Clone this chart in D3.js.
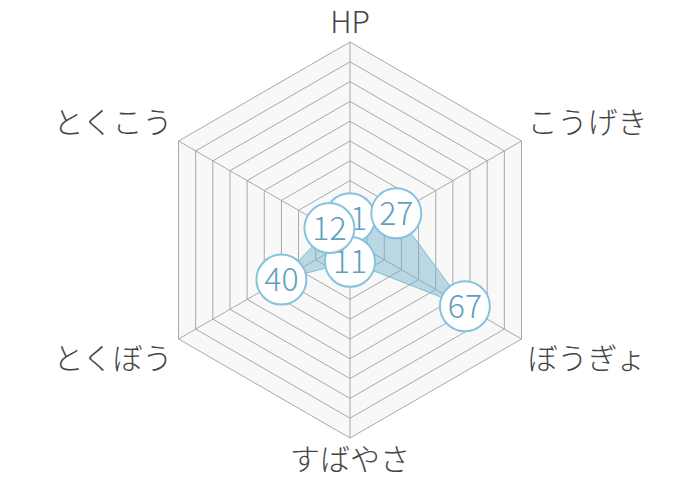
<!DOCTYPE html>
<html>
<head>
<meta charset="utf-8">
<script src="https://cdn.jsdelivr.net/npm/d3@7"></script>
<style>
  body { margin: 0; background: #fff; }
  svg { display: block; }
</style>
</head>
<body>
<script>
// stat names clockwise from the top
const stats = ["HP", "こうげき", "ぼうぎょ", "すばやさ", "とくぼう", "とくこう"];
const values = [11, 27, 67, 11, 40, 12];
const levels = [10, 20, 30, 40, 50, 60, 70, 80, 90, 100];

const width = 700, height = 480;
const cx = 350, cy = 240, R = 198;

const svg = d3.select("body").append("svg")
              .attr("width", width)
              .attr("height", height);

const g = svg.append("g").attr("transform", `translate(${cx},${cy})`);

const r = d3.scaleLinear().domain([0, 100]).range([0, R]);
const angle = d3.scaleLinear().domain([0, stats.length]).range([0, 2 * Math.PI]);

const pt = (i, v) => [Math.sin(angle(i)) * r(v), -Math.cos(angle(i)) * r(v)];

const radial = d3.lineRadial()
                 .angle((d, i) => angle(i))
                 .radius(d => r(d))
                 .curve(d3.curveLinearClosed);

// background hexagon
g.append("path")
 .attr("d", radial(stats.map(() => 100)))
 .attr("fill", "#f8f8f8")
 .attr("stroke", "none");

// rings
g.selectAll(".ring")
 .data(levels)
 .join("path")
 .attr("class", "ring")
 .attr("d", d => radial(stats.map(() => d)))
 .attr("fill", "none")
 .attr("stroke", "#a8a8a8")
 .attr("stroke-width", 1);

// spokes
g.selectAll(".spoke")
 .data(stats)
 .join("line")
 .attr("class", "spoke")
 .attr("x1", 0).attr("y1", 0)
 .attr("x2", (d, i) => pt(i, 100)[0])
 .attr("y2", (d, i) => pt(i, 100)[1])
 .attr("stroke", "#a8a8a8")
 .attr("stroke-width", 1);

// data area
g.append("path")
 .attr("d", radial(values))
 .attr("fill", "rgba(110,175,205,0.45)")
 .attr("stroke", "#7fbcd8")
 .attr("stroke-width", 1);

// value bubbles
const bub = g.selectAll(".bub")
             .data(values)
             .join("g")
             .attr("class", "bub")
             .attr("transform", (d, i) => `translate(${pt(i, d)})`);

bub.append("circle")
   .attr("r", 25)
   .attr("fill", "#fff")
   .attr("stroke", "#86c3de")
   .attr("stroke-width", 2);

bub.append("text")
   .attr("text-anchor", "middle")
   .attr("dy", "0.36em")
   .attr("font-family", "'Noto Sans CJK JP', 'Noto Sans', sans-serif")
   .attr("font-weight", 300)
   .attr("font-size", 32)
   .attr("fill", "#5f9fc0")
   .text(d => d);

// axis labels
const labelPos = [
  {dx: 0, dy: -9, anchor: "middle"},
  {dx: 6, dy: -8, anchor: "start"},
  {dx: 6, dy: 30, anchor: "start"},
  {dx: 0, dy: 32, anchor: "middle"},
  {dx: -6, dy: 30, anchor: "end"},
  {dx: -6, dy: -8, anchor: "end"}
];

g.selectAll(".lab")
 .data(stats)
 .join("text")
 .attr("class", "lab")
 .attr("x", (d, i) => pt(i, 100)[0] + labelPos[i].dx)
 .attr("y", (d, i) => pt(i, 100)[1] + labelPos[i].dy)
 .attr("text-anchor", (d, i) => labelPos[i].anchor)
 .attr("font-family", "'Noto Sans CJK JP', sans-serif")
 .attr("font-weight", 300)
 .attr("font-size", 30)
 .attr("fill", "#444")
 .text(d => d);
</script>
</body>
</html>
